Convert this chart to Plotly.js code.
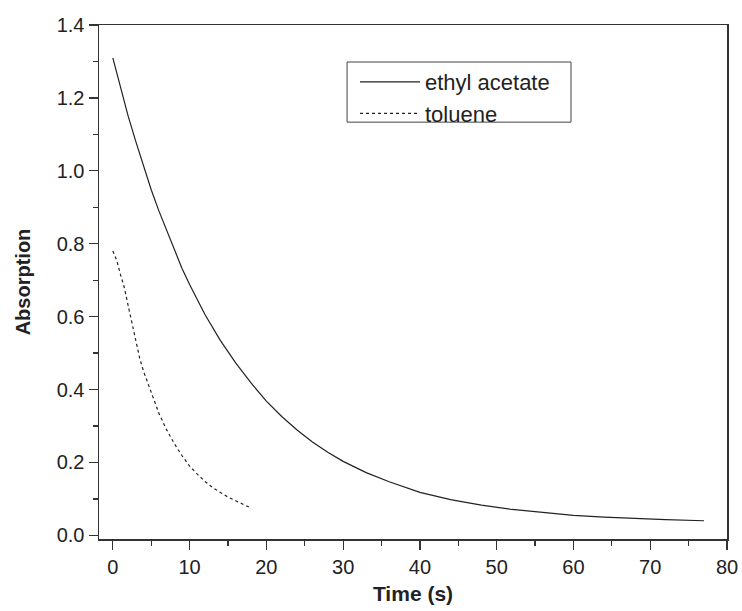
<!DOCTYPE html>
<html>
<head>
<meta charset="utf-8">
<script src="https://cdn.plot.ly/plotly-3.0.1.min.js"></script>
<style>html,body{margin:0;padding:0;background:#fff;}#chart{width:742px;height:611px;}</style>
</head>
<body>
<div id="chart"></div>
<script>
// Ethyl acetate decay (time in s, absorption)
const ethylTime = [0, 1, 2, 3, 4, 5, 6, 7, 8, 9, 10, 12, 14, 16, 18, 20, 22, 24, 26, 28, 30, 33, 36, 40, 44, 48, 52, 56, 60, 64, 68, 72, 77];
const ethylAbs  = [1.31, 1.228, 1.15, 1.08, 1.012, 0.948, 0.89, 0.838, 0.784, 0.733, 0.688, 0.606, 0.535, 0.473, 0.418, 0.368, 0.326, 0.289, 0.256, 0.228, 0.203, 0.172, 0.147, 0.118, 0.098, 0.083, 0.071, 0.062, 0.055, 0.05, 0.046, 0.043, 0.04];
// Toluene decay
const tolTime = [0, 0.5, 1, 1.5, 2, 2.5, 3, 3.5, 4, 5, 6, 7, 8, 9, 10, 11, 12, 13, 14, 15, 16, 17, 18];
const tolAbs  = [0.78, 0.755, 0.715, 0.68, 0.63, 0.58, 0.528, 0.486, 0.45, 0.39, 0.335, 0.29, 0.252, 0.219, 0.19, 0.168, 0.148, 0.131, 0.117, 0.105, 0.095, 0.085, 0.075];
const seriesNames = ["ethyl acetate", "toluene"];
const xTicks = [0, 10, 20, 30, 40, 50, 60, 70, 80];
const yTicks = [0, 0.2, 0.4, 0.6, 0.8, 1.0, 1.2, 1.4];

const font = "Liberation Sans, Arial, sans-serif";
const traces = [
  {x: ethylTime, y: ethylAbs, name: seriesNames[0], mode: "lines",
   line: {color: "#222", width: 1.2}},
  {x: tolTime, y: tolAbs, name: seriesNames[1], mode: "lines",
   line: {color: "#222", width: 1.2, dash: "3px,3px"}}
];

const axisCommon = {
  showgrid: false, zeroline: false, showline: true, linecolor: "#333", linewidth: 1.5,
  mirror: true, ticks: "outside", ticklen: 9, tickwidth: 1.2, tickcolor: "#333",
  tickfont: {family: font, size: 20, color: "#222"}
};

const layout = {
  width: 742, height: 611,
  margin: {l: 99, r: 15, t: 25, b: 72},
  paper_bgcolor: "#fff", plot_bgcolor: "#fff",
  showlegend: true,
  legend: {x: 0.4076, y: 0.93, xanchor: "left", yanchor: "top",
    borderwidth: 0, bgcolor: "rgba(0,0,0,0)",
    font: {family: font, size: 22, color: "#222"}, itemwidth: 60,
    tracegroupgap: 0},
  shapes: [{type: "rect", xref: "paper", yref: "paper",
    x0: 0.395, x1: 0.7516, y0: 0.811, y1: 0.928,
    line: {color: "#444", width: 1}, fillcolor: "rgba(0,0,0,0)", layer: "above"}],
  xaxis: Object.assign({}, axisCommon, {
    range: [-1.8, 80], tickvals: xTicks,
    minor: {dtick: 5, tick0: 0, ticks: "outside", ticklen: 5, tickcolor: "#333", tickwidth: 1.2},
    title: {text: "<b>Time (s)</b>", font: {family: font, size: 21, color: "#222"}, standoff: 10}
  }),
  yaxis: Object.assign({}, axisCommon, {
    range: [-0.01, 1.4], tickvals: yTicks, tickformat: ".1f",
    minor: {dtick: 0.1, tick0: 0, ticks: "outside", ticklen: 5, tickcolor: "#333", tickwidth: 1.2},
    title: {text: "<b>Absorption</b>", font: {family: font, size: 20, color: "#222"}, standoff: 20}
  })
};

Plotly.newPlot("chart", traces, layout, {displayModeBar: false, staticPlot: true});
</script>
</body>
</html>
